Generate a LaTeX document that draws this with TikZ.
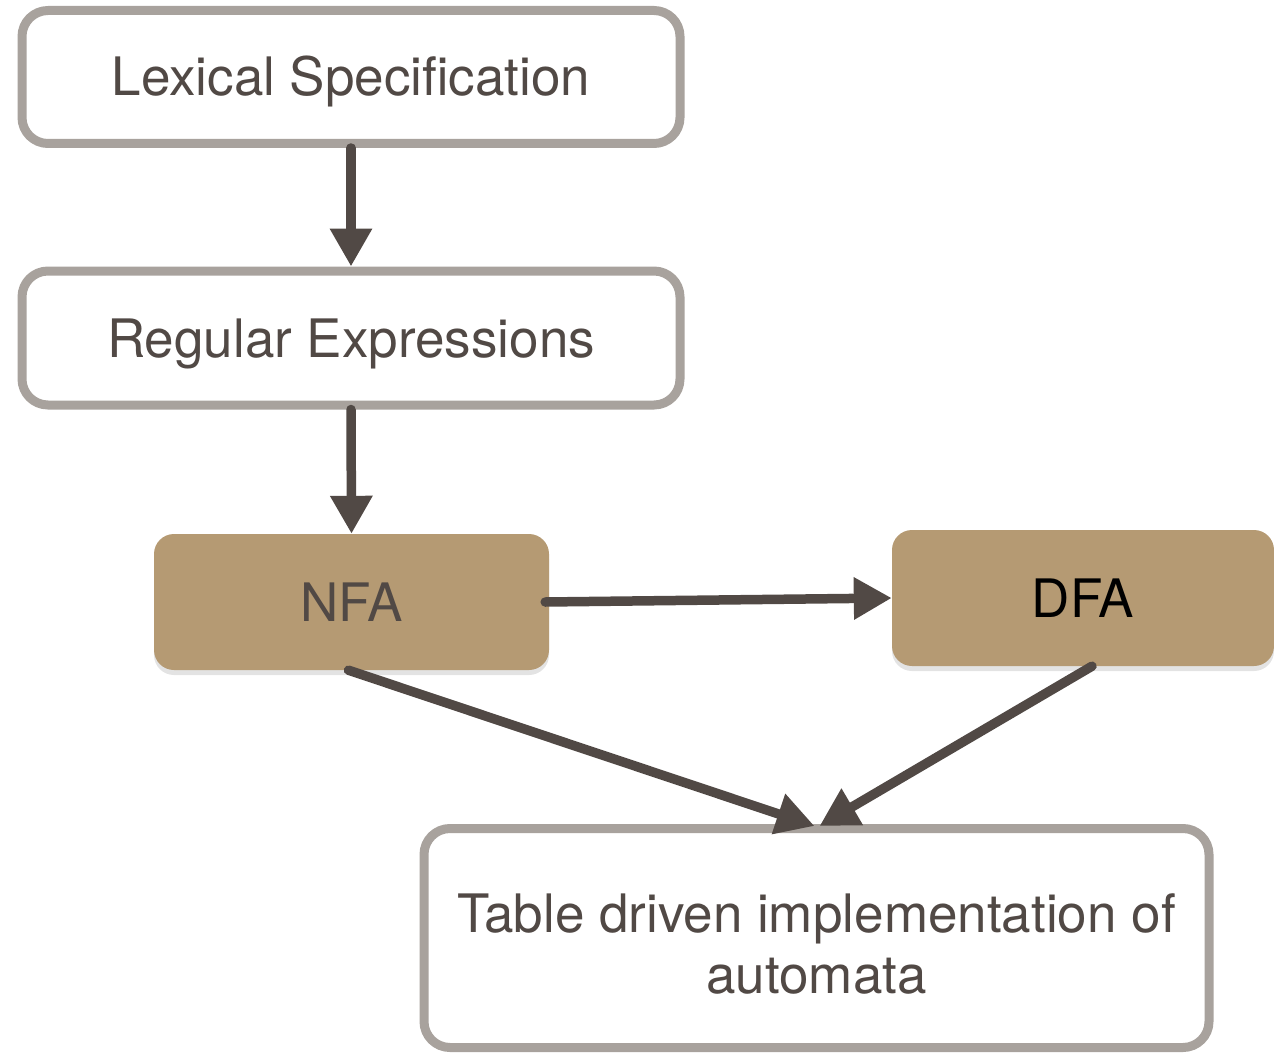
\documentclass[tikz,border=0pt]{standalone}
\usepackage{fontspec}
\setmainfont{TeX Gyre Heros}
\usetikzlibrary{arrows.meta,shadows}
\definecolor{edgegray}{HTML}{A8A29D}
\definecolor{ink}{HTML}{514945}
\definecolor{tan}{HTML}{B59A73}

\begin{document}
\begin{tikzpicture}[x=1pt,y=-1pt,
  big/.style={font=\fontsize{53}{61}\selectfont,inner sep=0pt},
  box/.style={big,rectangle,rounded corners=26pt,draw=edgegray,line width=9pt,fill=white,text=ink},
  fa/.style={big,rectangle,rounded corners=20pt,fill=tan,text=ink,minimum width=#1,minimum height=136pt,text height=38pt,text depth=0pt,
    drop shadow={shadow xshift=0pt,shadow yshift=-5pt,opacity=0.22}},
  flow/.style={draw=ink,line width=9.5pt,line cap=round,-{Triangle[length=38pt,width=40pt]}}]
    \useasboundingbox (0,0) rectangle (1274,1054);
    % stages of the lexer pipeline
    \node[box,minimum width=658pt,minimum height=133pt,text height=38pt,text depth=0pt] (lex) at (351,77) {Lexical Specification};
    \node[box,minimum width=658pt,minimum height=134pt,text height=38pt,text depth=0pt] (re) at (351,338) {Regular Expressions};
    \node[fa=395pt] (nfa) at (351.5,602) {NFA};
    \node[fa=382pt,text=black] (dfa) at (1083,598) {DFA};
    \node[box,minimum width=785pt,minimum height=219pt] (tab) at (816.5,938) {};
    \node[big,text=ink,align=center,anchor=base] (tabtext) at ([yshift=-55pt]tab.center) {Table driven implementation of\\automata};
    % arrows
    \draw[flow] (lex.south) -- (re.north);
    \draw[flow] (re.south) -- (nfa.north);
    \draw[flow] ([xshift=-4pt]nfa.east) -- (dfa.west);
    \draw[flow] ([xshift=-3pt]nfa.south) -- ([xshift=-2pt,yshift=-2pt]tab.north);
    \draw[flow] ([xshift=9pt]dfa.south) -- ([xshift=3pt,yshift=-2pt]tab.north);
\end{tikzpicture}
\end{document}
